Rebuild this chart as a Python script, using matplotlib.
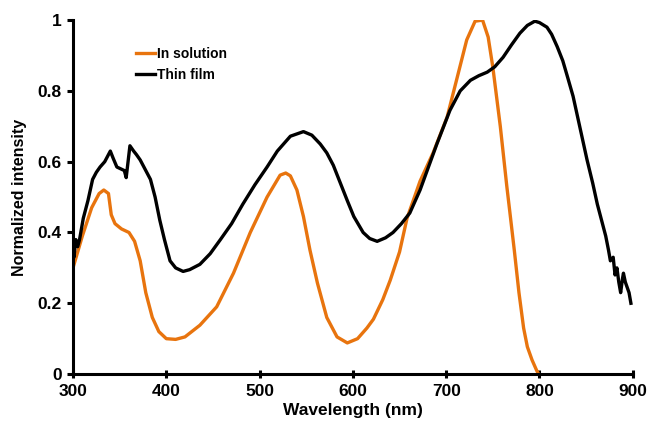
import matplotlib.pyplot as plt

plt.rcParams['font.family'] = ['Liberation Sans', 'DejaVu Sans']
plt.rcParams['font.weight'] = 'bold'

# absorption in solution (orange)
solution_nm = [300, 310, 320, 328, 333, 338, 341, 345, 352, 360, 366, 372, 378, 385,
               392, 400, 410, 420, 436, 454, 472, 490, 508, 522, 528, 533, 540, 547,
               554, 562, 572, 583, 594, 605, 615, 622, 632, 640, 650, 658, 672, 686,
               701, 712, 722, 731, 739, 745, 750, 758, 765, 768, 773, 778, 783, 787,
               792, 797, 799]
solution_int = [0.30, 0.39, 0.47, 0.51, 0.52, 0.51, 0.45, 0.425, 0.41, 0.40, 0.375, 0.32,
                0.23, 0.16, 0.12, 0.10, 0.098, 0.105, 0.138, 0.19, 0.285, 0.40, 0.50,
                0.562, 0.568, 0.56, 0.52, 0.445, 0.35, 0.257, 0.16, 0.105, 0.088, 0.10,
                0.13, 0.155, 0.21, 0.265, 0.345, 0.44, 0.545, 0.625, 0.726, 0.84, 0.944,
                0.997, 1.0, 0.952, 0.867, 0.70, 0.53, 0.463, 0.35, 0.23, 0.13, 0.077,
                0.04, 0.01, 0.0]

# thin film (black)
film_nm = [300, 301, 303, 305, 307, 311, 316, 321, 325, 329, 334, 338, 340, 343, 347,
           351, 355, 357, 359, 361, 365, 368, 372, 377, 383, 388, 393, 398, 404, 410,
           418, 425, 436, 447, 458, 470, 482, 495, 508, 519, 533, 547, 556, 565,
           572, 579, 588, 594, 601, 611, 618, 626, 635, 643, 652, 661, 672, 690,
           704, 715, 726, 735, 744, 752, 761, 770, 779, 787, 795, 800, 808, 813,
           819, 825, 830, 836, 841, 846, 851, 857, 862, 867, 871, 874, 876, 879, 881,
           883, 885, 887, 889, 890, 892, 894, 896, 898]
film_int = [0.40, 0.33, 0.38, 0.36, 0.38, 0.44, 0.49, 0.55, 0.57, 0.585, 0.60, 0.62, 0.63,
            0.61, 0.585, 0.58, 0.575, 0.555, 0.60, 0.645, 0.63, 0.62, 0.605, 0.58, 0.55,
            0.50, 0.435, 0.38, 0.32, 0.30, 0.29, 0.295, 0.31, 0.34, 0.38, 0.425, 0.48,
            0.535, 0.585, 0.63, 0.672, 0.685, 0.675, 0.65, 0.625, 0.59, 0.53, 0.49,
            0.445, 0.40, 0.383, 0.375, 0.385, 0.40, 0.425, 0.455, 0.52, 0.65, 0.745,
            0.80, 0.83, 0.843, 0.853, 0.868, 0.895, 0.93, 0.963, 0.985, 0.997, 0.993,
            0.98, 0.96, 0.925, 0.885, 0.84, 0.785, 0.725, 0.665, 0.605, 0.54, 0.48, 0.43,
            0.39, 0.35, 0.32, 0.33, 0.28, 0.30, 0.26, 0.23, 0.27, 0.285, 0.26, 0.245,
            0.23, 0.20]

x_ticks = [300, 400, 500, 600, 700, 800, 900]
y_ticks = [0, 0.2, 0.4, 0.6, 0.8, 1]
y_labels = ['0', '0.2', '0.4', '0.6', '0.8', '1']

fig = plt.figure(figsize=(6.49, 4.28), dpi=100)
ax = fig.add_axes([0.1125, 0.126, 0.8625, 0.827])

ax.plot(solution_nm, solution_int, color='#E8740E', lw=2.4, label='In solution')
ax.plot(film_nm, film_int, color='black', lw=2.4, label='Thin film')

ax.set_xlim(300, 900)
ax.set_ylim(0, 1)
ax.set_xticks(x_ticks)
ax.set_yticks(y_ticks)
ax.set_yticklabels(y_labels)
for s in ['top', 'right']:
    ax.spines[s].set_visible(False)
for s in ['left', 'bottom']:
    ax.spines[s].set_linewidth(2.2)
ax.tick_params(width=2.2, length=4, labelsize=12.5, pad=4)
ax.tick_params(axis='x', direction='inout', length=6)
for lab in ax.get_xticklabels() + ax.get_yticklabels():
    lab.set_fontweight('bold')

ax.set_xlabel('Wavelength (nm)', fontsize=12.5, fontweight='bold', labelpad=3)
ax.set_ylabel('Normalized intensity', fontsize=11.5, fontweight='bold', labelpad=8)

ax.legend(loc='upper left', bbox_to_anchor=(0.09, 0.96), frameon=False,
          handlelength=1.4, handletextpad=0.1, labelspacing=0.5,
          prop={'size': 10, 'weight': 'bold'})

fig.savefig('out.png', dpi=100)
